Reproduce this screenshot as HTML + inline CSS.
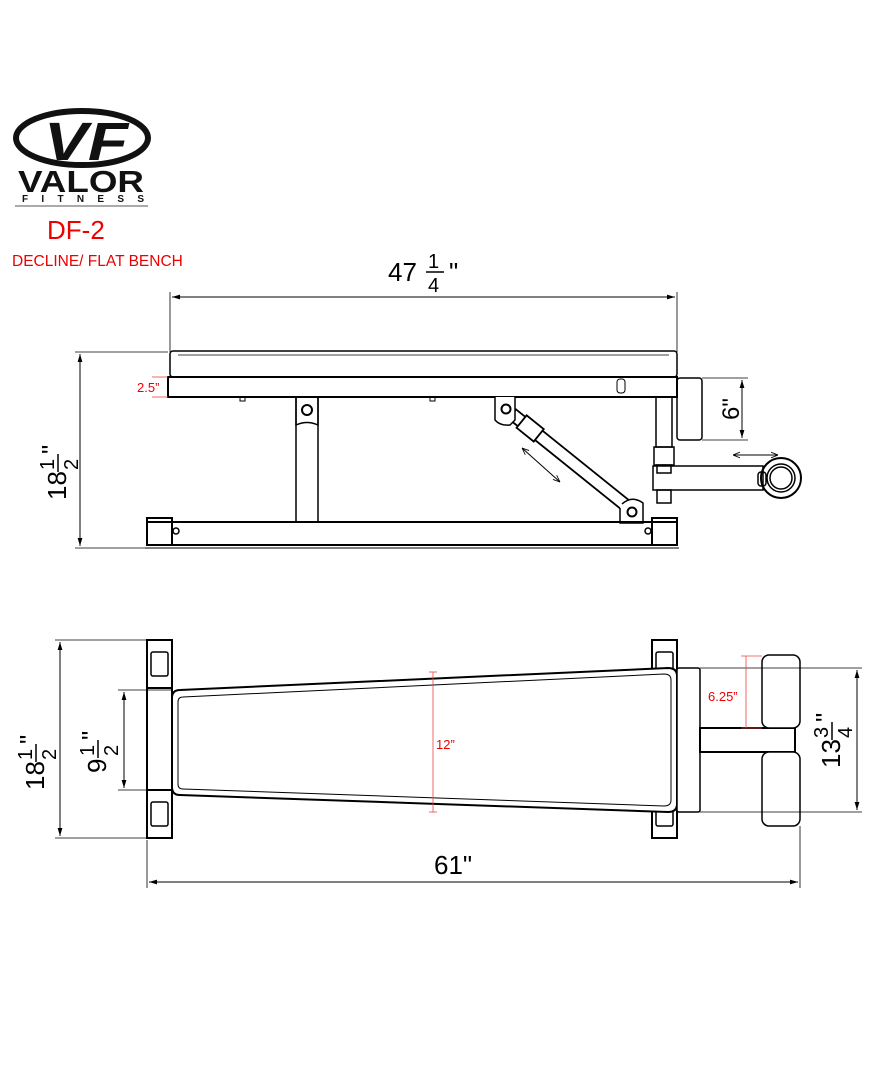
<!DOCTYPE html>
<html><head><meta charset="utf-8"><style>
html,body{margin:0;padding:0;background:#fff;}
svg{display:block;font-family:"Liberation Sans",Arial,sans-serif;}
</style></head><body>
<svg width="880" height="1080" viewBox="0 0 880 1080" xmlns="http://www.w3.org/2000/svg">
<defs>
<marker id="a" viewBox="0 0 10 10" refX="10" refY="5" markerWidth="8" markerHeight="8" orient="auto-start-reverse"><path d="M0,2 L10,5 L0,8 z" fill="#000"/></marker>
<marker id="b" viewBox="0 0 10 10" refX="10" refY="5" markerWidth="7" markerHeight="7" orient="auto-start-reverse"><path d="M0,1 L10,5 L0,9" fill="none" stroke="#000" stroke-width="1.2"/></marker>
</defs>
<g>
<ellipse cx="82" cy="138" rx="66" ry="27" fill="none" stroke="#111" stroke-width="6"/>
<text x="44" y="160" font-size="54" font-weight="bold" font-style="italic" fill="#111" textLength="84" lengthAdjust="spacingAndGlyphs">VF</text>
<text x="18" y="192" font-size="31" font-weight="bold" fill="#111" textLength="126" lengthAdjust="spacingAndGlyphs">VALOR</text>
<text x="22" y="202" font-size="10" font-weight="bold" fill="#111" textLength="122" lengthAdjust="spacing">FITNESS</text>
<line x1="15" y1="206" x2="148" y2="206" stroke="#555" stroke-width="1"/>
<text x="47" y="239" font-size="26" fill="#e00">DF-2</text>
<text x="12" y="266" font-size="15.5" fill="#e00">DECLINE/ FLAT BENCH</text>
</g>
<g fill="none" stroke="#000" stroke-width="1.5">
<line x1="170" y1="292" x2="170" y2="352" stroke-width="0.8"/>
<line x1="677" y1="292" x2="677" y2="352" stroke-width="0.8"/>
<line x1="172" y1="297" x2="675" y2="297" stroke-width="1" marker-start="url(#a)" marker-end="url(#a)"/>
<rect x="170" y="351" width="507" height="26" rx="3"/>
<line x1="178" y1="355" x2="669" y2="355" stroke-width="0.8"/>
<rect x="168" y="377" width="509" height="20" stroke-width="2"/>
<rect x="617" y="379" width="8" height="14" rx="3" stroke-width="1"/>
<rect x="240" y="397" width="5" height="4" stroke-width="1"/>
<rect x="430" y="397" width="5" height="4" stroke-width="1"/>
<rect x="296" y="397" width="22" height="125" stroke-width="1.5"/>
<path d="M296,397 V425 Q307,420 318,425 V397"/>
<circle cx="307" cy="410" r="5" stroke-width="2"/>
<g transform="translate(506,409) rotate(38.8)">
<rect x="8" y="-6" width="150" height="12" fill="#fff" stroke-width="1.8"/>
<rect x="20" y="-8" width="22" height="16" fill="#fff" stroke-width="1.8"/>
</g>
<path d="M495,397 V420 Q500,426 510,425 L515,420 V397" fill="#fff"/>
<circle cx="506" cy="409" r="4.5" stroke-width="2"/>
<path d="M620,508 V523 H643 V503 Q632,495 622,504" fill="#fff"/>
<circle cx="632" cy="512" r="4.5" stroke-width="2"/>
<line x1="522" y1="448" x2="560" y2="482" stroke-width="1" marker-start="url(#b)" marker-end="url(#b)"/>
<rect x="656" y="397" width="16" height="50"/>
<rect x="654" y="447" width="20" height="18"/>
<rect x="657" y="465" width="14" height="8"/>
<rect x="677" y="378" width="25" height="62" rx="3"/>
<line x1="702" y1="378" x2="748" y2="378" stroke-width="0.8"/>
<line x1="702" y1="440" x2="748" y2="440" stroke-width="0.8"/>
<line x1="742" y1="380" x2="742" y2="438" stroke-width="1" marker-start="url(#a)" marker-end="url(#a)"/>
<rect x="653" y="466" width="110" height="24"/>
<rect x="657" y="490" width="14" height="13"/>
<rect x="758" y="472" width="8" height="14" rx="3"/>
<circle cx="781" cy="478" r="20" stroke-width="2"/>
<circle cx="781" cy="478" r="14"/>
<circle cx="781" cy="478" r="11"/>
<line x1="733" y1="455" x2="778" y2="455" stroke-width="1" marker-start="url(#b)" marker-end="url(#b)"/>
<rect x="147" y="522" width="530" height="23" stroke-width="2"/>
<rect x="147" y="518" width="25" height="27" stroke-width="2"/>
<rect x="652" y="518" width="25" height="27" stroke-width="2"/>
<circle cx="176" cy="531" r="3"/><circle cx="648" cy="531" r="3"/>
<line x1="145" y1="548" x2="679" y2="548" stroke-width="1"/>
<line x1="75" y1="352" x2="168" y2="352" stroke-width="0.8"/>
<line x1="75" y1="548" x2="145" y2="548" stroke-width="0.8"/>
<line x1="80" y1="354" x2="80" y2="546" stroke-width="1" marker-start="url(#a)" marker-end="url(#a)"/>
</g>
<g stroke="#e44" stroke-width="0.8" fill="none"><line x1="152" y1="377" x2="168" y2="377"/><line x1="152" y1="397" x2="168" y2="397"/></g>
<text x="137" y="392" font-size="13" fill="#e00">2.5”</text>
<text x="388" y="281" font-size="26" fill="#000">47</text>
<text x="428" y="268" font-size="20" fill="#000">1</text>
<line x1="426" y1="272" x2="444" y2="272" stroke="#000" stroke-width="1.5"/>
<text x="428" y="292" font-size="20" fill="#000">4</text>
<text x="449" y="281" font-size="26" fill="#000">"</text>
<g transform="translate(66,500) rotate(-90)">
<text x="0" y="0" font-size="26">18</text><text x="30" y="-12" font-size="20">1</text>
<line x1="28" y1="-8" x2="46" y2="-8" stroke="#000" stroke-width="1.5"/><text x="30" y="12" font-size="20">2</text><text x="46" y="-6" font-size="26">"</text>
</g>
<g transform="translate(739,420) rotate(-90)"><text x="0" y="0" font-size="24">6"</text></g>

<g fill="none" stroke="#000" stroke-width="1.5">
<rect x="147" y="640" width="25" height="198" stroke-width="2"/>
<rect x="147" y="640" width="25" height="48" stroke-width="2"/><rect x="151" y="652" width="17" height="24" rx="2"/>
<rect x="147" y="790" width="25" height="48" stroke-width="2"/><rect x="151" y="802" width="17" height="24" rx="2"/>
<rect x="652" y="640" width="25" height="198" stroke-width="2"/>
<rect x="652" y="640" width="25" height="48" stroke-width="2"/><rect x="656" y="652" width="17" height="24" rx="2"/>
<rect x="652" y="790" width="25" height="48" stroke-width="2"/><rect x="656" y="802" width="17" height="24" rx="2"/>
<path d="M180,690 L668,668 Q677,668 677,676 V804 Q677,812 668,812 L180,795 Q172,795 172,787 V698 Q172,690 180,690 Z" fill="#fff" stroke-width="2"/>
<path d="M183,697 L664,674 Q671,674 671,680 V800 Q671,806 664,806 L183,789 Q178,789 178,784 V702 Q178,697 183,697 Z" stroke-width="1"/>
<rect x="677" y="668" width="23" height="144" rx="2" fill="#fff"/>
<rect x="700" y="728" width="95" height="24" stroke-width="2"/>
<rect x="762" y="655" width="38" height="73" rx="7" fill="#fff"/>
<rect x="762" y="752" width="38" height="74" rx="7" fill="#fff"/>
<line x1="700" y1="668" x2="862" y2="668" stroke-width="0.8"/>
<line x1="700" y1="812" x2="862" y2="812" stroke-width="0.8"/>
<line x1="857" y1="670" x2="857" y2="810" stroke-width="1" marker-start="url(#a)" marker-end="url(#a)"/>
<line x1="55" y1="640" x2="147" y2="640" stroke-width="0.8"/>
<line x1="55" y1="838" x2="147" y2="838" stroke-width="0.8"/>
<line x1="60" y1="642" x2="60" y2="836" stroke-width="1" marker-start="url(#a)" marker-end="url(#a)"/>
<line x1="118" y1="690" x2="172" y2="690" stroke-width="0.8"/>
<line x1="118" y1="790" x2="172" y2="790" stroke-width="0.8"/>
<line x1="124" y1="692" x2="124" y2="788" stroke-width="1" marker-start="url(#a)" marker-end="url(#a)"/>
<line x1="147" y1="840" x2="147" y2="888" stroke-width="0.8"/>
<line x1="800" y1="826" x2="800" y2="888" stroke-width="0.8"/>
<line x1="149" y1="882" x2="798" y2="882" stroke-width="1" marker-start="url(#a)" marker-end="url(#a)"/>
</g>
<g stroke="#e44" stroke-width="0.8" fill="none">
<line x1="433" y1="672" x2="433" y2="812"/><line x1="429" y1="672" x2="437" y2="672"/><line x1="429" y1="812" x2="437" y2="812"/>
<line x1="746" y1="656" x2="746" y2="728"/><line x1="741" y1="656" x2="762" y2="656"/><line x1="741" y1="728" x2="762" y2="728"/>
</g>
<text x="436" y="749" font-size="13" fill="#e00">12”</text>
<text x="708" y="701" font-size="13" fill="#e00">6.25”</text>
<text x="434" y="874" font-size="26">61"</text>
<g transform="translate(44,790) rotate(-90)">
<text x="0" y="0" font-size="26">18</text><text x="30" y="-12" font-size="20">1</text>
<line x1="28" y1="-8" x2="46" y2="-8" stroke="#000" stroke-width="1.5"/><text x="30" y="12" font-size="20">2</text><text x="46" y="-6" font-size="26">"</text>
</g>
<g transform="translate(106,773) rotate(-90)">
<text x="0" y="0" font-size="26">9</text><text x="17" y="-12" font-size="20">1</text>
<line x1="15" y1="-8" x2="33" y2="-8" stroke="#000" stroke-width="1.5"/><text x="17" y="12" font-size="20">2</text><text x="33" y="-6" font-size="26">"</text>
</g>
<g transform="translate(840,768) rotate(-90)">
<text x="0" y="0" font-size="26">13</text><text x="30" y="-12" font-size="20">3</text>
<line x1="28" y1="-8" x2="46" y2="-8" stroke="#000" stroke-width="1.5"/><text x="30" y="12" font-size="20">4</text><text x="46" y="-6" font-size="26">"</text>
</g>
</svg>
</body></html>
